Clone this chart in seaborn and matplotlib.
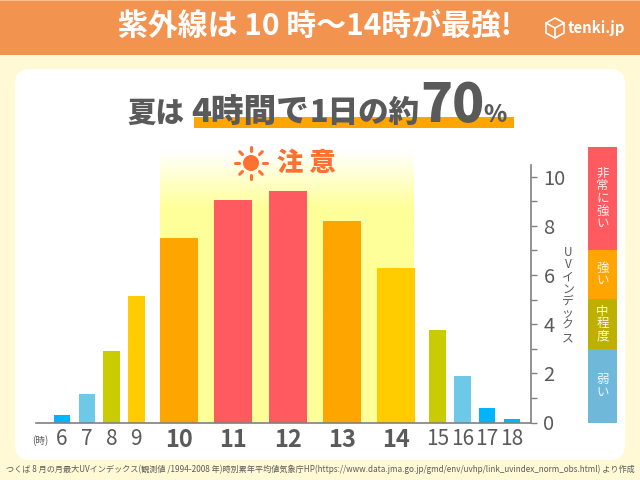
#!python
# -*- coding: utf-8 -*-
import numpy as np
import pandas as pd
import seaborn as sns
import matplotlib
matplotlib.use('Agg')
import matplotlib.pyplot as plt
from matplotlib.colors import LinearSegmentedColormap
from matplotlib.patches import FancyBboxPatch, Rectangle, Circle, Polygon

hours = [6, 7, 8, 9, 10, 11, 12, 13, 14, 15, 16, 17, 18]
uv_index = [0.3, 1.15, 2.9, 5.15, 7.5, 9.05, 9.4, 8.2, 6.3, 3.75, 1.9, 0.6, 0.15]
bar_colors = ['#00B4FF', '#6EC8E8', '#C8CC00', '#FFCC00', '#FFA500', '#FF5A5F', '#FF5A5F',
              '#FFA500', '#FFCC00', '#C8CC00', '#6EC8E8', '#00B4FF', '#00B4FF']
peak_hours = [10, 11, 12, 13, 14]

level_labels = ['非常に強い', '強い', '中程度', '弱い']
level_colors = ['#FF5A5F', '#FFA500', '#BDB000', '#70B8DA']
level_edges = [147, 250, 299, 349, 423]

title = '紫外線は 10 時〜14時が最強!'
footer = 'つくば 8 月の月最大UVインデックス(観測値 /1994-2008 年)時別累年平均値気象庁HP(https://www.data.jma.go.jp/gmd/env/uvhp/link_uvindex_norm_obs.html) より作成'

sns.set_theme(style='white')
plt.rcParams['font.family'] = ['Noto Sans CJK JP', 'DejaVu Sans']

GRAY = '#5A5A5A'
W, H = 640, 480
fig = plt.figure(figsize=(6.4, 4.8), dpi=100, facecolor='#FFF9D6')

# Full figure axes in pixels for the poster parts
bg = fig.add_axes([0, 0, 1, 1], zorder=0)
bg.set_xlim(0, W)
bg.set_ylim(H, 0)
bg.axis('off')

bg.add_patch(Rectangle((0, 0), W, 55, color='#F29350', lw=0))
bg.add_patch(Rectangle((0, 0), W, 1, color='#F8BE90', lw=0))
bg.add_patch(FancyBboxPatch((15, 69), 610, 391, boxstyle='round,pad=0,rounding_size=15',
                            mutation_scale=1, fc='white', ec='none', lw=0))

bg.text(315, 27, title, color='white', fontsize=21.5, fontweight='bold', ha='center', va='center')

# tenki.jp logo
bg.add_patch(Polygon([(555, 18), (564, 23), (564, 33), (555, 38), (546, 33), (546, 23)],
                     fc='none', ec='white', lw=1.2))
bg.plot([546, 555, 564], [23, 28, 23], color='white', lw=1.2)
bg.plot([555, 555], [28, 38], color='white', lw=1.2)
bg.text(568, 28, 'tenki.jp', color='white', fontsize=10.8, fontweight='bold', ha='left', va='center')

# Headline
bg.add_patch(Rectangle((193.5, 117), 320, 11, color='#FFA500', lw=0, zorder=1))
head_parts = [(127, '夏は', 20.5), (191, '4時間で', 23.5), (310, '1日の約', 22),
              (420, '70', 38), (483, '%', 17)]
for x, s, size in head_parts:
    bg.text(x, 122, s, color=GRAY, fontsize=size, fontweight='black',
            ha='left', va='baseline', zorder=2)

# Yellow glow behind the peak hours
glow = LinearSegmentedColormap.from_list('glow', [(0, '#FFFFFF'), (0.21, '#FFFF99'), (1, '#FFFF99')])
bg.imshow(np.linspace(0, 1, 256).reshape(-1, 1), cmap=glow, extent=(160, 414, 423, 150),
          aspect='auto', zorder=1)
bg.set_xlim(0, W)
bg.set_ylim(H, 0)

# Sun and caution label
sun_x, sun_y = 251, 163
bg.add_patch(Circle((sun_x, sun_y), 8, color='#FF7033', lw=0, zorder=2))
for a in np.arange(0, 360, 45):
    dx, dy = np.cos(np.radians(a)), np.sin(np.radians(a))
    bg.plot([sun_x + 12 * dx, sun_x + 16 * dx], [sun_y + 12 * dy, sun_y + 16 * dy],
            color='#FF7033', lw=2.2, solid_capstyle='round', zorder=2)
bg.text(306, 163, '注 意', color='#FF7033', fontsize=19, fontweight='black',
        ha='center', va='center', zorder=2)

# Level scale on the right
for i, label in enumerate(level_labels):
    top, bottom = level_edges[i], level_edges[i + 1]
    bg.add_patch(Rectangle((588, top), 29, bottom - top, color=level_colors[i], lw=0))
    bg.text(602.5, (top + bottom) / 2, '\n'.join(label), color='white', fontsize=9,
            ha='center', va='center', linespacing=0.95, alpha=0.9)

bg.text(568, 295, '\n'.join('UVインデックス'), color=GRAY, fontsize=8.5,
        ha='center', va='center', linespacing=0.92)
bg.text(40, 441, '(時)', color=GRAY, fontsize=7, ha='center', va='center')
bg.text(320, 469, footer, color=GRAY, fontsize=5.85, ha='center', va='center')

# Chart axes, x measured in pixels because the two bar widths share one axis
ax = fig.add_axes([35.5 / W, 1 - 422.5 / H, (531 - 35.5) / W, (422.5 - 165) / H], zorder=1)
ax.patch.set_alpha(0)

narrow_step = 24.8
wide_step = 54.3
bar_x = {}
for i, h in enumerate(hours):
    if h <= 9:
        bar_x[h] = 62 + narrow_step * (h - 6)
    elif h <= 14:
        bar_x[h] = 179 + wide_step * (h - 10)
    else:
        bar_x[h] = 437.5 + narrow_step * (h - 15)

df = pd.DataFrame({'hour': hours, 'uv': uv_index, 'x': [bar_x[h] for h in hours]})
palette = dict(zip(hours, bar_colors))
is_peak = df['hour'].isin(peak_hours)

sns.barplot(data=df[~is_peak], x='x', y='uv', hue='hour', palette=palette, native_scale=True,
            dodge=False, width=16.5 / narrow_step, saturation=1, errorbar=None, legend=False,
            linewidth=0, ax=ax)
sns.barplot(data=df[is_peak], x='x', y='uv', hue='hour', palette=palette, native_scale=True,
            dodge=False, width=38 / wide_step, saturation=1, errorbar=None, legend=False,
            linewidth=0, ax=ax)

ax.set_xlim(35.5, 531)
ax.set_ylim(0, 10.47)
ax.set_xlabel('')
ax.set_ylabel('')

for side in ['top', 'left']:
    ax.spines[side].set_visible(False)
for side in ['right', 'bottom']:
    ax.spines[side].set_color('#808080')
    ax.spines[side].set_linewidth(1.2)

ax.yaxis.tick_right()
ax.set_yticks(range(0, 11, 2))
ax.set_yticks(range(1, 11, 2), minor=True)
ax.tick_params(axis='y', which='major', direction='out', length=4.5, width=1, color='#808080',
               labelsize=14.5, labelcolor=GRAY, pad=4.5, right=True)
ax.tick_params(axis='y', which='minor', direction='out', length=4.5, width=1, color='#808080', right=True)

ax.set_xticks(df['x'])
ax.set_xticklabels(hours)
ax.tick_params(axis='x', length=0, pad=4, labelsize=15, labelcolor=GRAY)
for lab, h in zip(ax.get_xticklabels(), hours):
    if h in peak_hours:
        lab.set_fontweight('bold')
        lab.set_fontsize(17)

fig.savefig('out.png', dpi=100, facecolor=fig.get_facecolor())
